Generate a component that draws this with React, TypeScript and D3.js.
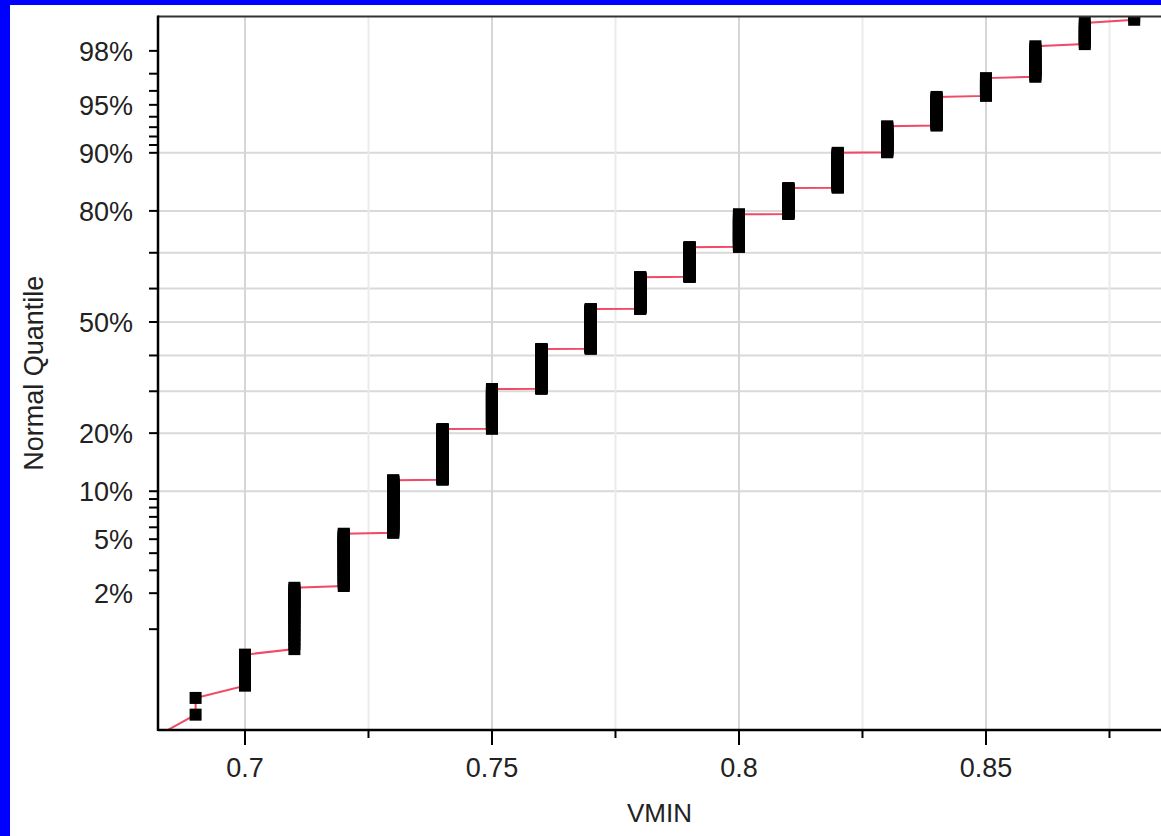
import React, { useEffect, useRef } from "react";
import * as d3 from "d3";

// VMIN values and how many observations sit at each value
const vminValues = [0.68, 0.69, 0.7, 0.71, 0.72, 0.73, 0.74, 0.75, 0.76, 0.77, 0.78, 0.79, 0.8, 0.81, 0.82, 0.83, 0.84, 0.85, 0.86, 0.87, 0.88];
const vminCounts = [1, 2, 5, 22, 44, 83, 127, 132, 154, 163, 128, 111, 106, 71, 75, 42, 34, 16, 19, 9, 15];

const xMajorTicks = [0.7, 0.75, 0.8, 0.85];
const xMinorTicks = [0.725, 0.775, 0.825, 0.875];

const yLabelTicks = [2, 5, 10, 20, 50, 80, 90, 95, 98];
const yAllTicks = [1, 2, 3, 4, 5, 6, 7, 8, 9, 10, 20, 30, 40, 50, 60, 70, 80, 90, 91, 92, 93, 94, 95, 96, 97, 98, 99];
const yGridTicks = [10, 20, 30, 40, 50, 60, 70, 80, 90];

const W = 1161;
const H = 836;
const FONT = "'Liberation Sans', Arial, sans-serif";

// inverse normal cdf (Acklam)
function probit(p: number): number {
  const a = [-39.69683028665376, 220.9460984245205, -275.9285104469687, 138.357751867269, -30.66479806614716, 2.506628277459239];
  const b = [-54.47609879822406, 161.5858368580409, -155.6989798598866, 66.80131188771972, -13.28068155288572];
  const c = [-0.007784894002430293, -0.3223964580411365, -2.400758277161838, -2.549732539343734, 4.374664141464968, 2.938163982698783];
  const d = [0.007784695709041462, 0.3224671290700398, 2.445134137142996, 3.754408661907416];
  const plow = 0.02425;
  if (p < plow) {
    const q = Math.sqrt(-2 * Math.log(p));
    return (((((c[0] * q + c[1]) * q + c[2]) * q + c[3]) * q + c[4]) * q + c[5]) / ((((d[0] * q + d[1]) * q + d[2]) * q + d[3]) * q + 1);
  }
  if (p <= 1 - plow) {
    const q = p - 0.5, r = q * q;
    return ((((((a[0] * r + a[1]) * r + a[2]) * r + a[3]) * r + a[4]) * r + a[5]) * q) / (((((b[0] * r + b[1]) * r + b[2]) * r + b[3]) * r + b[4]) * r + 1);
  }
  const q = Math.sqrt(-2 * Math.log(1 - p));
  return -(((((c[0] * q + c[1]) * q + c[2]) * q + c[3]) * q + c[4]) * q + c[5]) / ((((d[0] * q + d[1]) * q + d[2]) * q + d[3]) * q + 1);
}

export default function App() {
  const svgRef = useRef<SVGSVGElement>(null);

  useEffect(() => {
    const svg = d3.select(svgRef.current);
    svg.selectAll("*").remove();

    const margin = { left: 158, top: 16.5, right: 0, bottom: 730 };

    const x = d3.scaleLinear().domain([0.68239, 0.88543]).range([margin.left, W - margin.right]);
    const yz = d3.scaleLinear().domain([-3.09, 2.314]).range([margin.bottom, margin.top]);
    const yPct = (pct: number) => yz(probit(pct / 100));

    // expand counts into sorted points with plotting position i/(n+1)
    const n = d3.sum(vminCounts);
    const points: { v: number; z: number }[] = [];
    let i = 0;
    vminValues.forEach((v, k) => {
      for (let j = 0; j < vminCounts[k]; j++) {
        i += 1;
        points.push({ v, z: probit(i / (n + 1)) });
      }
    });

    svg.append("rect").attr("width", W).attr("height", H).attr("fill", "#ffffff");
    // blue frame bits
    svg.append("rect").attr("x", 0).attr("y", 0).attr("width", 10).attr("height", H).attr("fill", "#0000ff");
    svg.append("rect").attr("x", 0).attr("y", 0).attr("width", W).attr("height", 5).attr("fill", "#0000ff");

    svg.append("defs").append("clipPath").attr("id", "plotClip")
      .append("rect")
      .attr("x", margin.left)
      .attr("y", margin.top)
      .attr("width", W - margin.left)
      .attr("height", margin.bottom - margin.top);

    // grid
    const grid = svg.append("g");
    grid.selectAll(".gy").data(yGridTicks).join("line")
      .attr("x1", margin.left).attr("x2", W)
      .attr("y1", (d) => yPct(d)).attr("y2", (d) => yPct(d))
      .attr("stroke", "#d9d9d9").attr("stroke-width", 2);
    grid.selectAll(".gxm").data(xMinorTicks).join("line")
      .attr("x1", (d) => x(d)).attr("x2", (d) => x(d))
      .attr("y1", margin.top).attr("y2", margin.bottom)
      .attr("stroke", "#ebebeb").attr("stroke-width", 2);
    grid.selectAll(".gxM").data(xMajorTicks).join("line")
      .attr("x1", (d) => x(d)).attr("x2", (d) => x(d))
      .attr("y1", margin.top).attr("y2", margin.bottom)
      .attr("stroke", "#d6d6d6").attr("stroke-width", 2);

    const plot = svg.append("g").attr("clip-path", "url(#plotClip)");

    const line = d3.line<{ v: number; z: number }>()
      .x((d) => x(d.v))
      .y((d) => yz(d.z));
    plot.append("path")
      .datum(points)
      .attr("d", line)
      .attr("fill", "none")
      .attr("stroke", "#f04a66")
      .attr("stroke-width", 2);

    const size = 12;
    plot.selectAll(".pt").data(points).join("rect")
      .attr("x", (d) => x(d.v) - size / 2)
      .attr("y", (d) => yz(d.z) - size / 2)
      .attr("width", size)
      .attr("height", size)
      .attr("fill", "#000000");

    // axes frame
    svg.append("line").attr("x1", margin.left).attr("x2", W)
      .attr("y1", margin.top).attr("y2", margin.top)
      .attr("stroke", "#333333").attr("stroke-width", 2);
    svg.append("line").attr("x1", margin.left).attr("x2", margin.left)
      .attr("y1", margin.top - 1).attr("y2", margin.bottom + 1)
      .attr("stroke", "#000000").attr("stroke-width", 2.5);
    svg.append("line").attr("x1", margin.left).attr("x2", W)
      .attr("y1", margin.bottom).attr("y2", margin.bottom)
      .attr("stroke", "#000000").attr("stroke-width", 2.5);

    // y ticks
    svg.selectAll(".yt").data(yAllTicks.filter((t) => yPct(t) >= margin.top)).join("line")
      .attr("x1", margin.left - 9).attr("x2", margin.left)
      .attr("y1", (d) => yPct(d)).attr("y2", (d) => yPct(d))
      .attr("stroke", "#000000").attr("stroke-width", 2);
    svg.selectAll(".yl").data(yLabelTicks).join("text")
      .attr("x", margin.left - 25)
      .attr("y", (d) => yPct(d))
      .attr("dy", "0.36em")
      .attr("text-anchor", "end")
      .style("font-family", FONT)
      .style("font-size", "27px")
      .attr("fill", "#222222")
      .text((d) => `${d}%`);

    // x ticks
    svg.selectAll(".xtM").data(xMajorTicks).join("line")
      .attr("x1", (d) => x(d)).attr("x2", (d) => x(d))
      .attr("y1", margin.bottom).attr("y2", margin.bottom + 15)
      .attr("stroke", "#000000").attr("stroke-width", 2);
    svg.selectAll(".xtm").data(xMinorTicks).join("line")
      .attr("x1", (d) => x(d)).attr("x2", (d) => x(d))
      .attr("y1", margin.bottom).attr("y2", margin.bottom + 8)
      .attr("stroke", "#000000").attr("stroke-width", 2);
    svg.selectAll(".xl").data(xMajorTicks).join("text")
      .attr("x", (d) => x(d))
      .attr("y", margin.bottom + 47)
      .attr("text-anchor", "middle")
      .style("font-family", FONT)
      .style("font-size", "27px")
      .attr("fill", "#222222")
      .text((d) => d3.format("~g")(d));

    // titles
    svg.append("text")
      .attr("x", (margin.left + W) / 2)
      .attr("y", 822)
      .attr("text-anchor", "middle")
      .style("font-family", FONT)
      .style("font-size", "26px")
      .attr("fill", "#222222")
      .text("VMIN");
    svg.append("text")
      .attr("transform", `translate(43, ${(margin.top + margin.bottom) / 2}) rotate(-90)`)
      .attr("text-anchor", "middle")
      .style("font-family", FONT)
      .style("font-size", "27px")
      .attr("fill", "#222222")
      .text("Normal Quantile");
  }, []);

  return (
    <div style={{ position: "absolute", left: 0, top: 0 }}>
      <svg ref={svgRef} width={W} height={H} style={{ display: "block" }}></svg>
    </div>
  );
}
